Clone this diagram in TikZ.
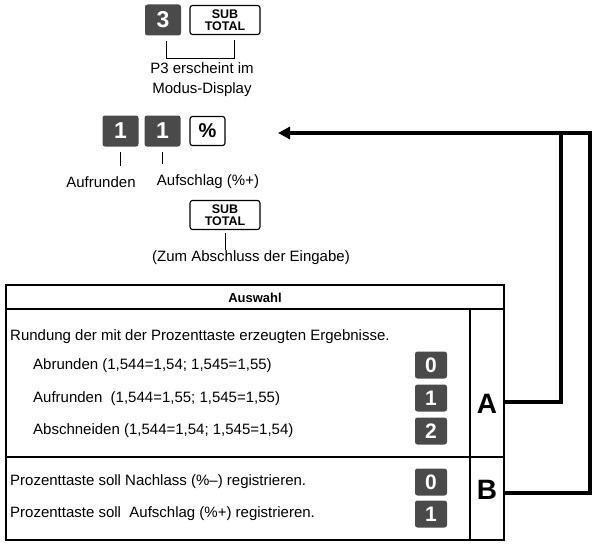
\documentclass[tikz,border=0pt]{standalone}
\usepackage{fontspec}
\setmainfont{Liberation Sans}
\usetikzlibrary{arrows.meta}
\definecolor{keygray}{HTML}{4A4A4A}

\begin{document}
\begin{tikzpicture}[x=1pt, y=-1pt, >={Triangle[length=12pt, width=12pt]},
    font=\fontsize{15}{20}\selectfont,
    darkkey/.style={fill=keygray, rounded corners=2.5pt, minimum width=36pt,
        minimum height=31pt, inner sep=0pt, text=white,
        font=\fontsize{23}{23}\selectfont\bfseries},
    smallkey/.style={darkkey, minimum width=32pt, minimum height=27pt,
        font=\fontsize{21}{21}\selectfont\bfseries},
    whitekey/.style={draw, line width=1.1pt, rounded corners=2.5pt, minimum width=35pt,
        minimum height=29pt, inner sep=0pt, font=\fontsize{20}{20}\selectfont\bfseries},
    subkey/.style={whitekey, minimum width=70pt, align=center,
        font=\fontsize{12.5}{11.5}\selectfont\bfseries},
    tick/.style={line width=0.9pt},
    link/.style={line width=3.2pt},
    rowtext/.style={anchor=west, inner sep=0pt},
    cellletter/.style={font=\fontsize{28}{28}\selectfont\bfseries}]
    \useasboundingbox (0,0) rectangle (593,543);

    % Taste 3 und Zwischensumme
    \node[darkkey] (k3) at (163,20) {3};
    \node[subkey] (st1) at (225,20) {SUB\\TOTAL};
    \node[align=center] (p3) at (202,80) {P3 erscheint im\\Modus-Display};
    \draw[tick] ([xshift=3pt, yshift=-5pt]k3.south) -- ++(0,18)
        -| ([xshift=9pt, yshift=-5pt]st1.south);

    % Eingabe 1 1 %
    \node[darkkey] (ka) at (120.5,131) {1};
    \node[darkkey] (kb) at (162.5,131) {1};
    \node[whitekey] (kp) at (207.5,131) {\%};
    \node (aufr) at (101,182) {Aufrunden};
    \node (aufs) at (208,182) {Aufschlag (\%+)};
    \draw[tick, shorten <=5pt, shorten >=7pt] (ka.south) -- (ka.south |- aufr.north);
    \draw[tick, shorten <=5pt, shorten >=7pt] (kb.south) -- (kb.south |- aufs.north);

    % Abschluss
    \node[subkey] (st2) at (225,215) {SUB\\TOTAL};
    \node[inner sep=0pt] (zum) at (251,258) {(Zum Abschluss der Eingabe)};
    \draw[tick, shorten <=3pt, shorten >=1pt] (st2.south) -- (st2.south |- zum.north);

    % Tabelle
    \draw[line width=1.3pt] (6,285) rectangle (504,540);
    \draw[line width=1.3pt] (6,309) -- (504,309);
    \draw[line width=1.3pt] (6,457) -- (504,457);
    \draw[line width=1.3pt] (470,309) -- (470,540);
    \node[font=\fontsize{13}{13}\selectfont\bfseries] (head) at (255,297.5) {Auswahl};

    \node[rowtext] (r0) at (10,337) {Rundung der mit der Prozenttaste erzeugten Ergebnisse.};
    \node[rowtext] (r1) at (33,366) {Abrunden (1,544=1,54; 1,545=1,55)};
    \node[rowtext] (r2) at (33,399) {Aufrunden\ \ (1,544=1,55; 1,545=1,55)};
    \node[rowtext] (r3) at (33,431) {Abschneiden (1,544=1,54; 1,545=1,54)};
    \node[rowtext] (r4) at (10,482) {Prozenttaste soll Nachlass (\%--) registrieren.};
    \node[rowtext] (r5) at (10,514) {Prozenttaste soll\ \ Aufschlag (\%+) registrieren.};

    \node[smallkey] (a0) at (431,365) {0};
    \node[smallkey] (a1) at (431,398) {1};
    \node[smallkey] (a2) at (431,431) {2};
    \node[smallkey] (b0) at (431,482) {0};
    \node[smallkey] (b1) at (431,514) {1};

    \node[cellletter] (selA) at (487,404) {A};
    \node[cellletter] (selB) at (487,490) {B};

    % Rueckfuehrung
    \coordinate (tip) at (278,133);
    \coordinate (busA) at (561,133);
    \coordinate (busB) at (590,133);
    \draw[link, ->] (504,402) -| (busA) -- (tip);
    \draw[link] (504,493) -| (busB) -- (busA);
\end{tikzpicture}
\end{document}
